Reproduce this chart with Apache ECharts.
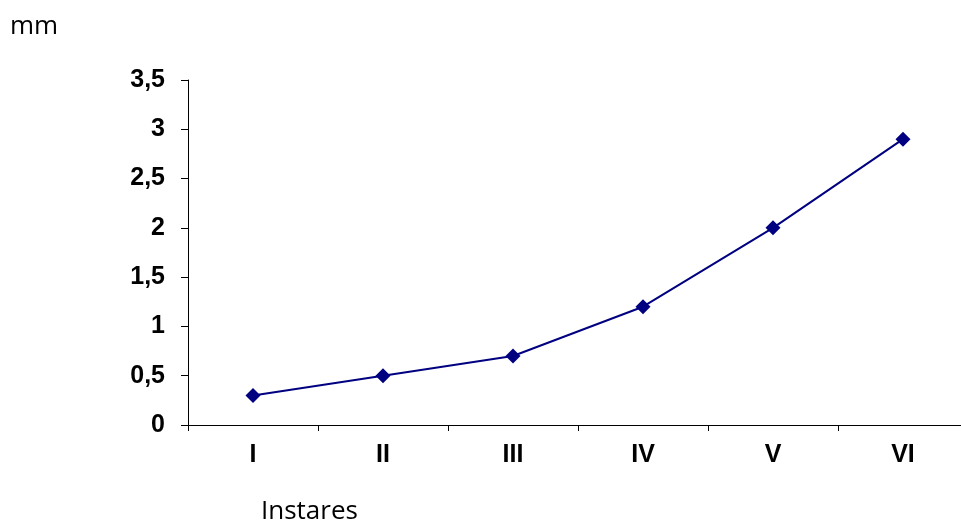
<!DOCTYPE html>
<html><head><meta charset="utf-8">
<script src="https://cdn.jsdelivr.net/npm/echarts@6/dist/echarts.min.js"></script>
<style>html,body{margin:0;padding:0;background:#fff;overflow:hidden}#c{width:980px;height:528px}</style>
</head><body><div id="c"></div>
<script>
var categories = ['I','II','III','IV','V','VI'];
var values = [0.3, 0.5, 0.7, 1.2, 2.0, 2.9];
var yTicks = {min: 0, max: 3.5, step: 0.5};
var chart = echarts.init(document.getElementById('c'));
chart.setOption({
  animation: false,
  backgroundColor: '#fff',
  grid: {left: 188, top: 80, width: 780, height: 345},
  graphic: [
    {type:'text', left: 10, top: 14, style:{text:'mm', font:'26px "Open Sans", sans-serif', fill:'#000'}},
    {type:'text', left: 261, top: 499, style:{text:'Instares', font:'26px "Open Sans", sans-serif', fill:'#000'}}
  ],
  xAxis: {
    type: 'category', data: categories, boundaryGap: true,
    axisLine: {lineStyle:{color:'#000', width:1}},
    axisTick: {show:true, length:6, lineStyle:{color:'#000'}},
    axisLabel: {color:'#000', fontSize:25, fontWeight:'bold', fontFamily:'Liberation Sans, Arial', margin:18}
  },
  yAxis: {
    type: 'value', min: yTicks.min, max: yTicks.max, interval: yTicks.step,
    axisLine: {show:true, lineStyle:{color:'#000', width:1}},
    axisTick: {show:true, length:7, lineStyle:{color:'#000'}},
    splitLine: {show:false},
    axisLabel: {color:'#000', fontSize:25, fontWeight:'bold', fontFamily:'Liberation Sans, Arial', margin:23,
      formatter: function(v){return String(v).replace('.', ',');}}
  },
  series: [{
    type: 'line', data: values,
    symbol: 'diamond', symbolSize: 15,
    lineStyle: {color:'#000080', width:2},
    itemStyle: {color:'#000080'}
  }]
});
</script></body></html>
